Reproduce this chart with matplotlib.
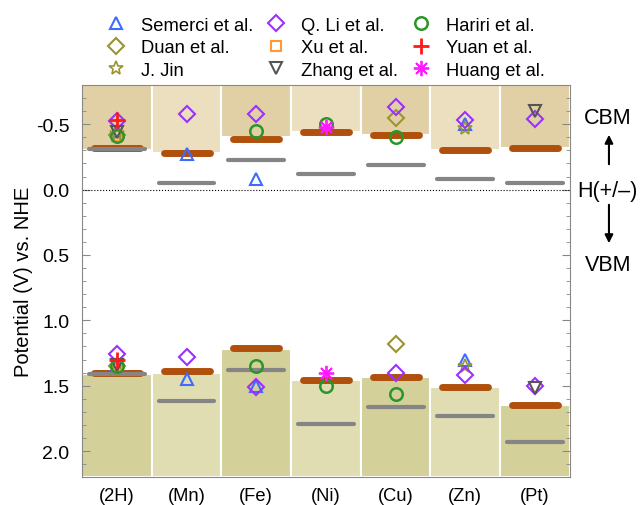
import numpy as np
import matplotlib
matplotlib.use("Agg")
import matplotlib.pyplot as plt
from matplotlib.ticker import MultipleLocator, FormatStrFormatter
from matplotlib.patches import FancyArrowPatch

plt.rcParams['font.family'] = ['Liberation Sans', 'DejaVu Sans']
plt.rcParams['axes.unicode_minus'] = False

# categories and band edges (V vs NHE)
cats = ['(2H)', '(Mn)', '(Fe)', '(Ni)', '(Cu)', '(Zn)', '(Pt)']
cbm_shade = [-0.30, -0.28, -0.40, -0.44, -0.42, -0.30, -0.32]
vbm_shade = [1.41, 1.40, 1.22, 1.46, 1.43, 1.51, 1.65]
cbm_orange = [-0.32, -0.28, -0.39, -0.44, -0.42, -0.30, -0.32]
vbm_orange = [1.40, 1.39, 1.21, 1.46, 1.43, 1.51, 1.65]
cbm_gray = [-0.31, -0.05, -0.23, -0.12, -0.19, -0.08, -0.05]
vbm_gray = [1.41, 1.62, 1.38, 1.79, 1.66, 1.73, 1.93]

# literature values: category index, potential
semerci_x = [0, 1, 2, 5, 0, 1, 2, 5]
semerci_y = [-0.45, -0.27, -0.08, -0.50, 1.34, 1.45, 1.50, 1.30]
duan_x = [0, 4, 0, 4]
duan_y = [-0.42, -0.55, 1.35, 1.18]
jin_x = [0, 5, 0, 5]
jin_y = [-0.43, -0.47, 1.35, 1.35]
li_x = [0, 1, 2, 4, 5, 6, 0, 1, 2, 4, 5, 6]
li_y = [-0.525, -0.58, -0.58, -0.63, -0.53, -0.54, 1.26, 1.28, 1.51, 1.40, 1.42, 1.50]
xu_x = [0, 0]
xu_y = [-0.41, 1.34]
zhang_x = [0, 6, 0, 6]
zhang_y = [-0.44, -0.60, 1.34, 1.52]
hariri_x = [0, 2, 3, 4, 0, 2, 3, 4]
hariri_y = [-0.41, -0.45, -0.50, -0.40, 1.35, 1.35, 1.50, 1.56]
yuan_x = [0, 0]
yuan_y = [-0.535, 1.30]
huang_x = [3, 3]
huang_y = [-0.48, 1.40]

ymin, ymax = -0.8, 2.2

fig = plt.figure(figsize=(6.41, 5.06), dpi=100)
ax = fig.add_axes([0.128, 0.055, 0.761, 0.775])

x = np.arange(len(cats))
top_cols = ['#e1d0a6', '#ecdfbf']
bot_cols = ['#d3d099', '#e0ddb3']
cb_top = [top_cols[i % 2] for i in x]
cb_bot = [bot_cols[i % 2] for i in x]

# shaded band regions
ax.bar(x, np.array(cbm_shade) - ymin, bottom=ymin, width=1.0, color=cb_top,
       edgecolor='white', linewidth=1.5, zorder=1)
ax.bar(x, ymax - np.array(vbm_shade), bottom=vbm_shade, width=1.0, color=cb_bot,
       edgecolor='white', linewidth=1.5, zorder=1)

ax.axhline(0, color='black', linestyle=':', linewidth=0.8, zorder=2)

for i in x:
    for v in (cbm_orange[i], vbm_orange[i]):
        ax.plot([i - 0.33, i + 0.33], [v, v], color='#b0500c', linewidth=5,
                solid_capstyle='round', zorder=3)
    for v in (cbm_gray[i], vbm_gray[i]):
        ax.plot([i - 0.40, i + 0.40], [v, v], color='#858585', linewidth=3,
                solid_capstyle='round', zorder=4)

ms = 9
mew = 1.5
ax.plot(semerci_x, semerci_y, '^', ms=ms, mew=mew, mfc='none', mec='#3d6bff', ls='none', label='Semerci et al.', zorder=5)
ax.plot(duan_x, duan_y, 'D', ms=ms - 1, mew=mew, mfc='none', mec='#9a9430', ls='none', label='Duan et al.', zorder=5)
ax.plot(jin_x, jin_y, '*', ms=ms + 1, mew=1.2, mfc='none', mec='#9a9430', ls='none', label='J. Jin', zorder=5)
ax.plot(li_x, li_y, 'D', ms=ms - 1, mew=mew, mfc='none', mec='#9b30ff', ls='none', label='Q. Li et al.', zorder=5)
ax.plot(xu_x, xu_y, 's', ms=ms - 2, mew=mew, mfc='none', mec='#ff9a30', ls='none', label='Xu et al.', zorder=5)
ax.plot(zhang_x, zhang_y, 'v', ms=ms, mew=mew, mfc='none', mec='#555555', ls='none', label='Zhang et al.', zorder=5)
ax.plot(hariri_x, hariri_y, 'o', ms=ms, mew=mew + 0.3, mfc='none', mec='#2a962a', ls='none', label='Hariri et al.', zorder=5)
ax.plot(yuan_x, yuan_y, '+', ms=ms + 2, mew=2, color='#ff1a1a', ls='none', label='Yuan et al.', zorder=6)
ax.plot(huang_x, huang_y, marker=(8, 2, 0), ms=ms + 2, mew=1.3, color='#ff1aff', ls='none', label='Huang et al.', zorder=6)

ax.set_xlim(-0.5, len(cats) - 0.5)
ax.set_ylim(ymax, ymin)
ax.set_xticks(x)
ax.set_xticklabels(cats, fontsize=13.2)
ax.tick_params(axis='x', length=0, pad=7)
ax.yaxis.set_major_locator(MultipleLocator(0.5))
ax.yaxis.set_minor_locator(MultipleLocator(0.1))
ax.yaxis.set_major_formatter(FormatStrFormatter('%.1f'))
ax.tick_params(axis='y', which='both', direction='in', left=True, right=True,
               color='#888888', labelsize=14, pad=9)
ax.tick_params(axis='y', which='major', length=6)
ax.tick_params(axis='y', which='minor', length=3)
ax.set_ylabel('Potential (V) vs. NHE', fontsize=14.5, labelpad=2)
for s in ax.spines.values():
    s.set_color('#888888')

fig.legend(loc='upper center', bbox_to_anchor=(0.505, 0.99), ncol=3,
           frameon=False, fontsize=13.2, handlelength=1.5, handletextpad=0.6,
           columnspacing=0.5, labelspacing=0.3, borderaxespad=0.3)

# right side annotations
fig.text(0.948, 1 - 118 / 506, 'CBM', ha='center', va='center', fontsize=15.5)
fig.text(0.948, 1 - 191 / 506, 'H(+/\u2013)', ha='center', va='center', fontsize=15.5)
fig.text(0.948, 1 - 266 / 506, 'VBM', ha='center', va='center', fontsize=15.5)
fig.add_artist(FancyArrowPatch(
    (0.950, 1 - 168 / 506), (0.950, 1 - 133 / 506), transform=fig.transFigure,
    arrowstyle='-|>', mutation_scale=12, color='black', lw=1.5))
fig.add_artist(FancyArrowPatch(
    (0.950, 1 - 203 / 506), (0.950, 1 - 247 / 506), transform=fig.transFigure,
    arrowstyle='-|>', mutation_scale=12, color='black', lw=1.5))

fig.savefig('out.png', dpi=100)
